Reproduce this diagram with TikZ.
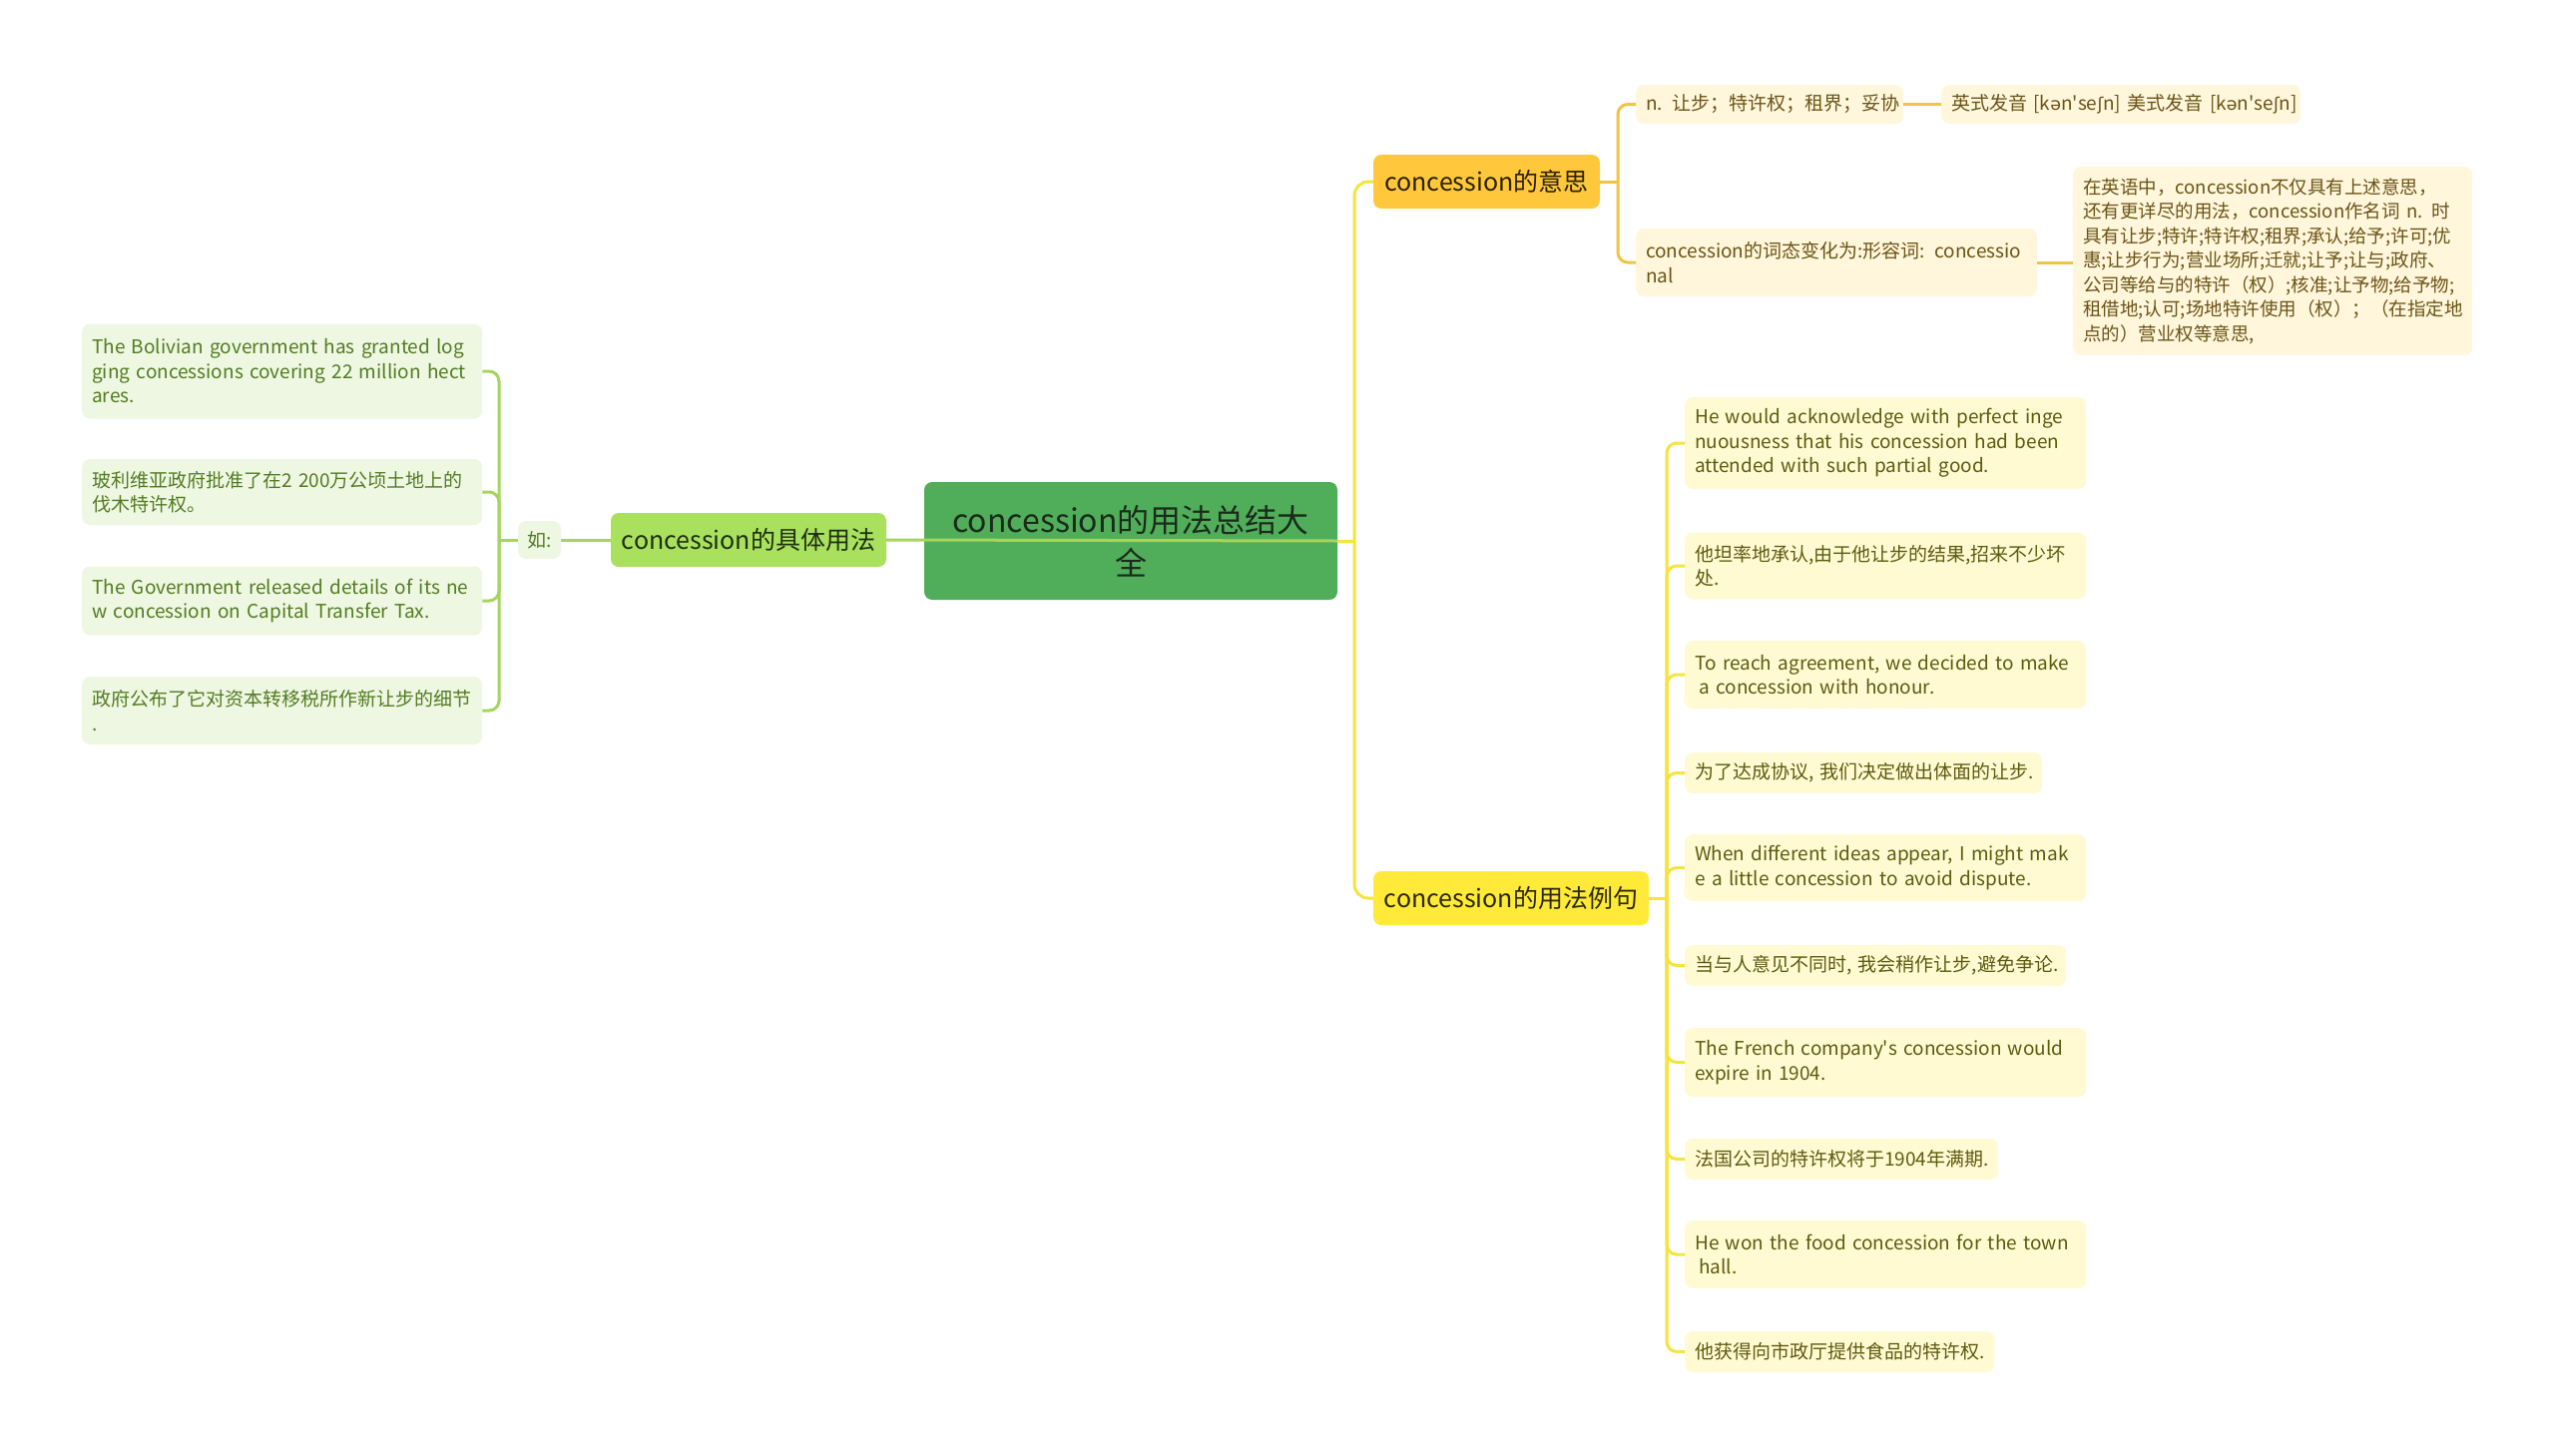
\documentclass[tikz,border=0pt]{standalone}
\usepackage{fontspec}
\setmainfont{Noto Sans CJK SC}
\newfontfamily\ipafont[Scale=0.92]{DejaVu Sans}
\newfontfamily\plainfont{Noto Sans CJK SC}
\definecolor{cenfill}{HTML}{50AE5A}
\definecolor{centext}{HTML}{1B2B1B}
\definecolor{lbfill}{HTML}{A9E15E}
\definecolor{lbtext}{HTML}{1E3010}
\definecolor{gline}{HTML}{A4D65E}
\definecolor{lgfill}{HTML}{EEF7E2}
\definecolor{lgtext}{HTML}{537B22}
\definecolor{bafill}{HTML}{FFC83C}
\definecolor{batext}{HTML}{2B2000}
\definecolor{goldline}{HTML}{F2C443}
\definecolor{creamfill}{HTML}{FFF6DB}
\definecolor{creamtext}{HTML}{6A5417}
\definecolor{bbfill}{HTML}{FFEA3A}
\definecolor{bbtext}{HTML}{2B2A00}
\definecolor{yline}{HTML}{F5E43C}
\definecolor{yfill}{HTML}{FFFAD2}
\definecolor{ytext}{HTML}{5F5A10}
\newcommand{\oneln}[1]{\mbox{#1}}
\newcommand{\aps}{{\plainfont'}}
\newcommand{\pron}{[k{\ipafont ə}n\aps se{\ipafont ʃ}n]}
\begin{document}
\begin{tikzpicture}[x=1pt,y=-1pt,
  box/.style={rectangle, rounded corners=8pt, inner xsep=10pt, inner ysep=4pt},
  leaftxt/.style={font=\fontsize{19}{24.5}\selectfont, align=left, anchor=west},
  leafG/.style={box, leaftxt, fill=lgfill, text=lgtext},
  leafC/.style={box, leaftxt, fill=creamfill, text=creamtext},
  leafY/.style={box, leaftxt, fill=yfill, text=ytext},
  branch/.style={box, font=\fontsize{25}{30}\selectfont, align=center},
  gcon/.style={draw=gline, line width=3pt},
  ocon/.style={draw=goldline, line width=3pt},
  ycon/.style={draw=yline, line width=3pt}]
\useasboundingbox[fill=white] (0,0) rectangle (2560,1459);

% central
\node[box, fill=cenfill, text=centext, minimum width=414pt, minimum height=118pt,
  font=\fontsize{32}{43}\selectfont, align=center] (c) at (1133,542) {concession的用法总结大\\全};

% main branches
\node[branch, fill=bafill, text=batext, minimum width=227pt, minimum height=54pt] (b1) at (1489.5,182) {concession的意思};
\node[branch, fill=bbfill, text=bbtext, minimum width=276pt, minimum height=54pt] (b2) at (1514,900) {concession的用法例句};
\node[branch, fill=lbfill, text=lbtext, minimum width=276pt, minimum height=54pt] (lb) at (750,541) {concession的具体用法};
\node[box, fill=lgfill, text=lgtext, minimum width=43pt, minimum height=38pt, inner xsep=3pt,
  font=\fontsize{19}{24}\selectfont] (ru) at (540.5,541) {如:};

% left leaves
\node[leafG, text width=381pt, minimum height=95pt] (l1) at (82,372)
  {\oneln{The Bolivian government has granted log}\\\oneln{ging concessions covering 22 million hect}\\ares.};
\node[leafG, text width=381pt, minimum height=66pt] (l2) at (82,493)
  {\oneln{玻利维亚政府批准了在2 200万公顷土地上的}\\伐木特许权。};
\node[leafG, text width=381pt, minimum height=69pt] (l3) at (82,602)
  {\oneln{The Government released details of its ne}\\\oneln{w concession on Capital Transfer Tax.}};
\node[leafG, text width=381pt, minimum height=68pt] (l4) at (82,712)
  {\oneln{政府公布了它对资本转移税所作新让步的细节}\\.};

% branch 1 leaves
\node[leafC, text width=248pt, minimum height=39pt] (n1) at (1639,104.5) {\oneln{n. 让步；特许权；租界；妥协}};
\node[leafC, text width=340pt, minimum height=39pt] (n2) at (1945,104.5) {\oneln{英式发音 \pron{} 美式发音 \pron}};
\node[leafC, text width=382pt, minimum height=68pt] (n3) at (1639,263)
  {\oneln{concession的词态变化为:形容词: concessio}\\nal};
\node[leafC, text width=380pt, minimum height=189pt, font=\fontsize{18.5}{24.5}\selectfont] (n4) at (2077,261.5)
  {\oneln{在英语中，concession不仅具有上述意思，}\\
   \oneln{还有更详尽的用法，concession作名词 n. 时}\\
   \oneln{具有让步;特许;特许权;租界;承认;给予;许可;优}\\
   \oneln{惠;让步行为;营业场所;迁就;让予;让与;政府、}\\
   \oneln{公司等给与的特许（权）;核准;让予物;给予物;}\\
   \oneln{租借地;认可;场地特许使用（权）；（在指定地}\\
   \oneln{点的）营业权等意思,}};

% branch 2 leaves
\node[leafY, text width=382pt, minimum height=92pt] (r1) at (1688,444)
  {\oneln{He would acknowledge with perfect inge}\\\oneln{nuousness that his concession had been}\\\oneln{attended with such partial good.}};
\node[leafY, text width=382pt, minimum height=67pt] (r2) at (1688,567)
  {\oneln{他坦率地承认,由于他让步的结果,招来不少坏}\\处.};
\node[leafY, text width=382pt, minimum height=68pt] (r3) at (1688,676)
  {\oneln{To reach agreement, we decided to make}\\\oneln{\hspace{4pt}a concession with honour.}};
\node[leafY, text width=338pt, minimum height=41pt] (r4) at (1688,774.5)
  {\oneln{为了达成协议, 我们决定做出体面的让步.}};
\node[leafY, text width=382pt, minimum height=67pt] (r5) at (1688,869.5)
  {\oneln{When different ideas appear, I might mak}\\\oneln{e a little concession to avoid dispute.}};
\node[leafY, text width=362pt, minimum height=41pt] (r6) at (1688,967.5)
  {\oneln{当与人意见不同时, 我会稍作让步,避免争论.}};
\node[leafY, text width=382pt, minimum height=69pt] (r7) at (1688,1064.5)
  {\oneln{The French company\aps s concession would}\\\oneln{expire in 1904.}};
\node[leafY, text width=294pt, minimum height=41pt] (r8) at (1688,1161.5)
  {\oneln{法国公司的特许权将于1904年满期.}};
\node[leafY, text width=382pt, minimum height=68pt] (r9) at (1688,1257)
  {\oneln{He won the food concession for the town}\\\oneln{\hspace{4pt}hall.}};
\node[leafY, text width=290pt, minimum height=41pt] (r10) at (1688,1354.5)
  {\oneln{他获得向市政厅提供食品的特许权.}};

% connectors
\coordinate (tr) at (1357,542);
\coordinate (k1) at (1621,182);
\coordinate (k2) at (1670,900);
\coordinate (kl) at (500,541);

\draw[gcon] (lb.east) -- (c.east);
\draw[gcon] (ru.east) -- (lb.west);
\draw[gcon] (kl) -- (ru.west);
\foreach \n in {l1,l2,l3,l4} \draw[gcon, rounded corners=10pt] (kl) |- (\n.east);

\draw[ycon] (c.east) -- (tr);
\draw[ycon, rounded corners=14pt] (tr) |- (b1.west);
\draw[ycon, rounded corners=14pt] (tr) |- (b2.west);

\draw[ocon] (b1.east) -- (k1);
\draw[ocon, rounded corners=10pt] (k1) |- (n1.west);
\draw[ocon, rounded corners=10pt] (k1) |- (n3.west);
\draw[ocon] (n1.east) -- (n2.west);
\draw[ocon] (n3.east) -- (n4.west |- n3.east);

\draw[ycon] (b2.east) -- (k2);
\foreach \n in {r1,r2,r3,r4,r5,r6,r7,r8,r9,r10} \draw[ycon, rounded corners=10pt] (k2) |- (\n.west);
\end{tikzpicture}
\end{document}
